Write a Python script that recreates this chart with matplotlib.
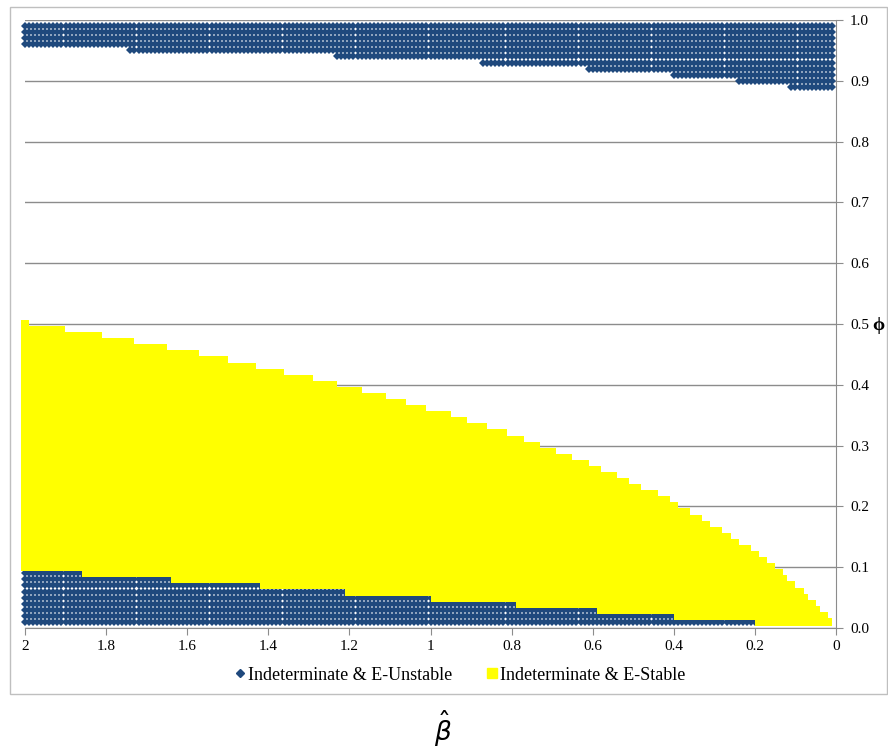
import numpy as np
import matplotlib
matplotlib.use('Agg')
import matplotlib.pyplot as plt
from matplotlib.patches import Rectangle
from matplotlib.lines import Line2D

plt.rcParams['font.family'] = ['Liberation Serif', 'DejaVu Serif']

# grid of beta values used in the computation (step 0.01)
beta_cols = np.round(np.arange(1, 201) * 0.01, 2)

# upper indeterminate & E-unstable block: lowest phi, valid for beta >= break
upper_levels = [0.96, 0.95, 0.94, 0.93, 0.92, 0.91, 0.90, 0.89]
upper_breaks = [1.75, 1.24, 0.88, 0.62, 0.41, 0.25, 0.12, 0.01]

# lower indeterminate & E-unstable block: highest phi
lower_levels = [0.09, 0.08, 0.07, 0.06, 0.05, 0.04, 0.03, 0.02, 0.01]
lower_breaks = [1.86, 1.64, 1.42, 1.21, 1.00, 0.79, 0.59, 0.40, 0.20]

# indeterminate & E-stable block: highest phi
stable_top = [0.50, 0.49, 0.48, 0.47, 0.46, 0.45, 0.44, 0.43, 0.42, 0.41,
              0.40, 0.39, 0.38, 0.37, 0.36, 0.35, 0.34, 0.33, 0.32, 0.31,
              0.30, 0.29, 0.28, 0.27, 0.26, 0.25, 0.24, 0.23, 0.22, 0.21,
              0.20, 0.19, 0.18, 0.17, 0.16, 0.15, 0.14, 0.13, 0.12, 0.11,
              0.10, 0.09, 0.08, 0.07, 0.06, 0.05, 0.04, 0.03, 0.02, 0.01]
stable_breaks = [2.00, 1.91, 1.82, 1.74, 1.66, 1.58, 1.51, 1.44, 1.37, 1.30,
                 1.24, 1.18, 1.12, 1.07, 1.02, 0.96, 0.92, 0.87, 0.82, 0.78,
                 0.74, 0.70, 0.66, 0.62, 0.59, 0.55, 0.52, 0.49, 0.45, 0.42,
                 0.40, 0.37, 0.34, 0.32, 0.29, 0.27, 0.25, 0.22, 0.20, 0.18,
                 0.16, 0.14, 0.13, 0.11, 0.09, 0.08, 0.06, 0.05, 0.03, 0.02]

x_ticks = [2, 1.8, 1.6, 1.4, 1.2, 1, 0.8, 0.6, 0.4, 0.2, 0]
x_tick_labels = ['2', '1.8', '1.6', '1.4', '1.2', '1', '0.8', '0.6', '0.4', '0.2', '0']
y_ticks = [0.0, 0.1, 0.2, 0.3, 0.4, 0.5, 0.6, 0.7, 0.8, 0.9, 1.0]

blue = '#1F497D'
yellow = '#FFFF00'
gray = '#8C8C8C'


def level_at(b, levels, breaks):
    for lev, br in zip(levels, breaks):
        if b >= br - 1e-9:
            return lev
    return None


ux, uy, sx, sy = [], [], [], []
for b in beta_cols:
    up = level_at(b, upper_levels, upper_breaks)
    if up is not None:
        for k in range(int(round(up * 100)), 100):
            ux.append(b)
            uy.append(k / 100)
    lo = level_at(b, lower_levels, lower_breaks)
    if lo is not None:
        for k in range(1, int(round(lo * 100)) + 1):
            ux.append(b)
            uy.append(k / 100)
    top = level_at(b, stable_top, stable_breaks)
    if top is not None:
        start = int(round(lo * 100)) + 1 if lo is not None else 1
        for k in range(start, int(round(top * 100)) + 1):
            sx.append(b)
            sy.append(k / 100)

fig = plt.figure(figsize=(8.88, 7.5), dpi=100)
ax = fig.add_axes([25 / 888, 122 / 750, 811 / 888, 608 / 750])

ax.plot(ux, uy, linestyle='none', marker='D', ms=3.9, mfc=blue, mew=0, clip_on=False)
ax.plot(sx, sy, linestyle='none', marker='s', ms=5.8, mfc=yellow, mew=0, clip_on=False)

ax.set_xlim(2, 0)
ax.set_ylim(0, 1)
ax.set_xticks(x_ticks)
ax.set_xticklabels(x_tick_labels)
ax.set_yticks(y_ticks)
ax.set_yticklabels(['%.1f' % v for v in y_ticks])
ax.yaxis.tick_right()
ax.grid(axis='y', color=gray, lw=1)
ax.set_axisbelow(True)
for s in ['left', 'top']:
    ax.spines[s].set_visible(False)
for s in ['right', 'bottom']:
    ax.spines[s].set_color(gray)
ax.tick_params(axis='both', direction='out', length=5, color=gray, labelsize=11)
ax.tick_params(axis='y', pad=5)

fig.text(878 / 888, 1 - 326 / 750, 'ϕ', fontsize=14, fontweight='bold', ha='center', va='center')
fig.text(443 / 888, 1 - 729 / 750, r'$\hat{\beta}$', fontsize=19, ha='center', va='center')

handles = [Line2D([], [], marker='D', color=blue, ls='none', ms=4),
           Line2D([], [], marker='s', color=yellow, ls='none', ms=7)]
fig.legend(handles, ['Indeterminate & E-Unstable', 'Indeterminate & E-Stable'],
           loc='center', bbox_to_anchor=(460 / 888, 1 - 675 / 750), ncol=2, frameon=False,
           fontsize=13, handlelength=0.6, handletextpad=0.15, columnspacing=1.9)

fig.patches.append(Rectangle((10 / 888, 1 - 694 / 750), 877 / 888, 687 / 750,
                             transform=fig.transFigure, fill=False, edgecolor='#BFBFBF', lw=1))

fig.savefig('out.png', dpi=100)
